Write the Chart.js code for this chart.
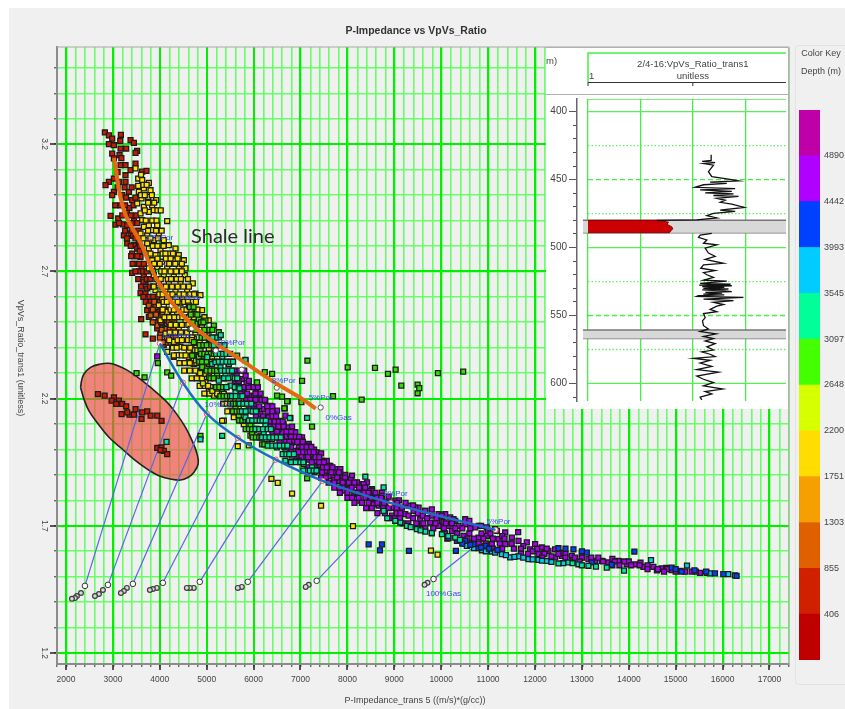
<!DOCTYPE html>
<html>
<head>
<meta charset="utf-8">
<title>P-Impedance vs VpVs_Ratio</title>
<script src="https://cdn.jsdelivr.net/npm/chart.js@4"></script>
<style>
  html, body { margin: 0; padding: 0; background: #fff; }
  canvas { filter: blur(0.4px); }
  #page { position: absolute; left: 9px; top: 8px; width: 836px; height: 701px; background: #f0f0f0; }
  #mainChart { position: absolute; left: 0; top: 0; }
  #logPanel { position: absolute; left: 546px; top: 47px; width: 243px; height: 362px; background: #fff; }
  #keyBox { position: absolute; left: 795px; top: 45px; width: 60px; height: 638px; border: 1px solid #e3e3e3; border-radius: 4px; background: #f0f0f0; }
  #keyChart { position: absolute; left: 795px; top: 100px; }
  .keyTitle { position: absolute; left: 795px; width: 52px; text-align: center; font: 9px "Liberation Sans", sans-serif; color: #444; }
</style>
</head>
<body>
<div id="page"></div>
<canvas id="mainChart" width="845" height="709"></canvas>
<div id="logPanel"><canvas id="logChart" width="243" height="362"></canvas></div>
<div id="keyBox"></div>
<div class="keyTitle" style="top:48px">Color Key</div>
<div class="keyTitle" style="top:66px">Depth (m)</div>
<canvas id="keyChart" width="50" height="570"></canvas>

<script>
// axis labels
const xLabels = [2000,3000,4000,5000,6000,7000,8000,9000,10000,11000,12000,13000,14000,15000,16000,17000];
const yLabels = [1.2,1.7,2.2,2.7,3.2];
const depthLabels = [406,855,1303,1751,2200,2648,3097,3545,3993,4442,4890];
const keyColors = ['#bf0000','#d02000','#e06000','#f5a000','#ffdd00','#d6ff00','#44ff00','#00ff99','#00ccff','#0040ff','#b000ff','#bf00a8'];

// crossplot points, one list per depth colour
const redPoints = [
  [2829,3.246],[2914,3.235],[2985,3.222],[3170,3.237],[3156,3.213],[3376,3.216],[3447,3.205],[2914,3.2],[3021,3.196],[3163,3.183],
  [3283,3.183],[2985,3.163],[3141,3.157],[3517,3.174],[3482,3.166],[3021,3.144],[3163,3.118],[3269,3.118],[3482,3.124],[3376,3.098],
  [3624,3.092],[3716,3.095],[3269,3.078],[3127,3.052],[3021,3.065],[2914,3.052],[2843,3.039],[3269,3.052],[3021,3.013],[2985,3.0],
  [3340,3.013],[3198,3.0],[3411,2.98],[3163,2.96],[2950,2.918],[3113,2.908],[3056,2.884],[3212,2.885],[3305,2.882],[3234,2.842],
  [3376,2.849],[3305,2.81],[3447,2.803],[3518,2.79],[3411,2.77],[3589,2.757],[3482,2.73],[3610,2.71],[3411,2.694],[3660,2.685],
  [3695,2.659],[3731,2.633],[3589,2.615],[3695,2.613],[3766,2.567],[3873,2.56],[3731,2.548],[3944,2.541],[3766,2.521],[3979,2.521],
  [3603,2.512],[3908,2.5],[4050,2.495],[3944,2.476],[4157,2.476],[3695,2.453],[4015,2.45],[3851,2.436],[4192,2.43],[4085,2.41],
  [4263,2.403],[4298,2.364],[3100,3.09],[3250,3.03],[3180,3.145],[3350,2.95],[3300,2.93],[3450,2.9],[3500,2.85],[3550,2.82],
  [3430,2.84],[3460,2.76],[3570,2.78],[3650,2.66],[3560,2.7],[3780,2.6],[3850,2.53],
  [3100,3.03],[3400,3.03],[3280,2.99],[3480,2.99],[3050,2.96],[3260,2.96],[3440,2.96],[3200,2.92],[3380,2.92],[3500,2.92],
  [3130,2.89],[3400,2.89],[3520,2.89],[3260,2.86],[3400,2.86],[3540,2.86],[3300,2.83],[3480,2.83],[3380,2.8],[3580,2.8],
  [3390,2.76],[3520,2.76],[3420,2.73],[3560,2.73],[3660,2.73],[3480,2.7],[3640,2.7],[3720,2.7],[3540,2.67],[3720,2.67],
  [3800,2.67],[3600,2.64],[3790,2.64],[3860,2.64],[3650,2.6],[3860,2.6],[3960,2.6],[3700,2.58],[3810,2.58],[3950,2.58],
  [4050,2.58],[3820,2.55],[3990,2.55]
];
const ellipseRedPoints = [
  [2681,2.218],[2823,2.212],[3022,2.205],[2972,2.192],[3128,2.192],[3071,2.179],[3199,2.179],[3284,2.17],[3185,2.139],[3355,2.137],
  [3306,2.146],[3483,2.159],[3447,2.137],[3625,2.146],[3731,2.15],[3611,2.12],[3803,2.133],[3945,2.133],[4037,2.113],[3945,2.006],
  [4037,2.008],[4087,1.995],[4158,1.982],[4015,1.998]
];
const orangePoints = [
  [3767,2.566],[3909,2.56],[4051,2.546],[3803,2.527],[3980,2.52],[4158,2.507],[3945,2.488],[4122,2.474],[4264,2.488],[4015,2.455],
  [4229,2.448],[4087,2.422],[4371,2.428],[4335,2.461],[3880,2.58],[4010,2.58],[3850,2.55],[4100,2.55],[3920,2.53],[4060,2.53],
  [4180,2.53],[3850,2.5],[4030,2.5],[4190,2.5],[4310,2.5],[4040,2.47],[4210,2.47],[4290,2.47],[4000,2.44],[4150,2.44],
  [4280,2.44],[4340,2.44],[4170,2.42],[4230,2.42]
];
const yellowPoints = [
  [3482,3.105],[3539,3.065],[3624,3.059],[3766,3.048],[3539,3.036],[3660,3.026],[3802,3.019],[3553,3.013],[3752,2.993],[3922,2.98],
  [3610,2.987],[3518,2.967],[3660,2.954],[3837,2.96],[3589,2.928],[3766,2.934],[3873,2.941],[4157,2.898],[3624,2.902],[3766,2.882],
  [3944,2.882],[3660,2.875],[3837,2.862],[3589,2.849],[3731,2.842],[3979,2.849],[3873,2.823],[4085,2.823],[3731,2.81],[4192,2.803],
  [4334,2.79],[3766,2.79],[4015,2.784],[3908,2.764],[4192,2.77],[4405,2.764],[3837,2.744],[4050,2.738],[4298,2.744],[4512,2.744],
  [3944,2.718],[4157,2.712],[4405,2.718],[4547,2.712],[3766,2.712],[3873,2.685],[4085,2.685],[4298,2.679],[4533,2.685],[3979,2.653],
  [4192,2.653],[4440,2.653],[4703,2.653],[3908,2.626],[4121,2.626],[4334,2.62],[4583,2.626],[4050,2.594],[4227,2.6],[4476,2.6],
  [4760,2.613],[4867,2.607],[3979,2.567],[4192,2.567],[4440,2.574],[4689,2.58],[4157,2.541],[4370,2.541],[4654,2.541],[4902,2.548],
  [4015,2.508],[4263,2.515],[4547,2.508],[4831,2.508],[5044,2.508],[4405,2.476],[4689,2.476],[4121,2.456],[4512,2.443],[4298,2.423],
  [4725,2.436],[4440,2.404],[4157,2.384],[4618,2.384],[4370,2.371],[4690,2.441],[4761,2.402],[4619,2.363],[4725,2.337],[4832,2.291],
  [4974,2.265],[5045,2.232],[5152,2.212],[5293,2.212],[5507,2.153],[5578,2.127],[5365,2.114],[5663,2.013],[5897,2.016],[6380,1.885],
  [6515,1.869],[5080,2.245],[5329,2.113],[6820,1.827],[7438,1.779],[8119,1.699],[9781,1.603],[9923,1.587],
  [3600,3.08],[3650,3.04],[3720,3.04],[3600,3.0],[3680,3.0],[3830,3.0],[3750,2.97],[3880,2.97],[3680,2.94],[3950,2.94],
  [4020,2.94],[3700,2.9],[3840,2.9],[3930,2.9],[3750,2.86],[3920,2.86],[4040,2.86],[3650,2.83],[3800,2.83],[3960,2.83],
  [3850,2.8],[3950,2.8],[4080,2.8],[3800,2.77],[4060,2.77],[4120,2.77],[4280,2.77],[3950,2.75],[4130,2.75],[4230,2.75],
  [4380,2.75],[3880,2.73],[4000,2.73],[4200,2.73],[4330,2.73],[4470,2.73],[3850,2.7],[4030,2.7],[4100,2.7],[4230,2.7],
  [4350,2.7],[4470,2.7],[3930,2.67],[4020,2.67],[4170,2.67],[4240,2.67],[4360,2.67],[4450,2.67],[4600,2.67],[3870,2.64],
  [4060,2.64],[4130,2.64],[4260,2.64],[4380,2.64],[4500,2.64],[4620,2.64],[3990,2.61],[4060,2.61],[4200,2.61],[4270,2.61],
  [4420,2.61],[4510,2.61],[4650,2.61],[4730,2.61],[4080,2.58],[4150,2.58],[4300,2.58],[4380,2.58],[4520,2.58],[4600,2.58],
  [4770,2.58],[4060,2.55],[4230,2.55],[4300,2.55],[4500,2.55],[4570,2.55],[4800,2.55],[4100,2.52],[4200,2.52],[4310,2.52],
  [4410,2.52],[4480,2.52],[4620,2.52],[4730,2.52],[4950,2.52],[4230,2.49],[4340,2.49],[4470,2.49],[4610,2.49],[4780,2.49],
  [4900,2.49],[4210,2.46],[4330,2.46],[4450,2.46],[4580,2.46],[4760,2.46],[4200,2.43],[4380,2.43],[4470,2.43],[4600,2.43],
  [4680,2.43],[4280,2.4],[4360,2.4],[4520,2.4],[4650,2.4],[4780,2.4],[4300,2.37],[4470,2.37],[4550,2.37],[4700,2.37],
  [4420,2.34],[4530,2.34],[4640,2.34],[4780,2.34],[4520,2.31],[4640,2.31],[4760,2.31],[4880,2.31],[4680,2.28],[4790,2.28],
  [4900,2.28],[4850,2.25],[4960,2.25],[5030,2.25],[4950,2.22],[5060,2.22],[5220,2.22],[5350,2.18],[5430,2.18],[5440,2.15]
];
const limePoints = [
  [4903,2.409],[5045,2.396],[4938,2.363],[5116,2.356],[4832,2.376],[5010,2.323],[5152,2.297],[4974,2.297],[5222,2.245],[5365,2.219],
  [5507,2.193],[5684,2.16],[5791,2.1],[5932,2.055],[6074,2.081],[6145,2.048],[6003,2.075],[4780,2.42],[4850,2.42],[4750,2.39],
  [4800,2.39],[4770,2.35],[4830,2.35],[4860,2.3],[4920,2.26],[5120,2.23]
];
const greenPoints = [
  [4832,2.363],[4974,2.356],[5045,2.337],[4903,2.324],[5152,2.31],[5045,2.284],[5222,2.291],[5329,2.238],[5471,2.212],[5613,2.166],
  [5684,2.134],[5791,2.114],[5932,2.1],[6039,2.081],[6145,2.055],[5968,2.062],[6288,2.022],[4619,2.566],[4725,2.533],[4832,2.513],
  [4974,2.507],[5152,2.487],[5045,2.467],[4761,2.494],[4655,2.474],[5258,2.461],[4903,2.441],[4725,2.422],[5045,2.415],[4868,2.389],
  [4690,2.369],[5649,2.369],[3504,2.3],[3675,2.284],[4158,2.303],[4243,2.29],[3958,2.34],[5826,2.35],[6238,2.304],[6394,2.297],
  [6074,2.264],[6500,2.212],[6607,2.208],[6728,2.19],[7019,2.186],[6664,2.162],[7147,2.349],[7033,2.27],[6714,2.189],[6657,2.162],
  [7246,2.09],[7140,1.887],[7693,2.21],[8006,2.323],[8588,2.321],[8865,2.297],[9028,2.314],[9149,2.251],[9497,2.255],[9532,2.241],
  [9497,2.221],[9930,2.3],[10469,2.306],[8304,2.196],[4867,2.054],
  [4890,2.44],[4960,2.44],[5050,2.44],[5120,2.44],[4850,2.41],[4930,2.41],[5000,2.41],[5100,2.41],[4880,2.376],[4950,2.376],
  [5020,2.376],[5090,2.376],[5150,2.376],[4840,2.345],[4900,2.345],[5000,2.345],[5100,2.345],[5170,2.345],[5000,2.31],[5080,2.31],
  [5160,2.31],[5220,2.31],[5080,2.28],[5150,2.28],[5260,2.28],[5330,2.28],[5200,2.245],[5270,2.245],[5350,2.245],[5420,2.245],
  [5290,2.21],[5360,2.21],[5430,2.21],[5500,2.21],[5500,2.18],[5560,2.18],[5620,2.18],[5680,2.18],[5560,2.15],[5640,2.15],
  [5700,2.15],[5760,2.15],[5690,2.114],[5760,2.114],[5830,2.114],[5880,2.114],[5830,2.08],[5900,2.08],[5970,2.08],[5980,2.048],
  [6050,2.048],[6120,2.048],[6170,2.048],[6180,2.02],[6230,2.02],[4640,2.56],[4720,2.56],[4660,2.53],[4800,2.53],[4700,2.5],
  [4880,2.5],[4930,2.5],[4760,2.47],[4950,2.47],[5060,2.47],[5120,2.47]
];
const tealPoints = [
  [5258,2.441],[5116,2.336],[5293,2.323],[5471,2.336],[5542,2.284],[5400,2.29],[5258,2.271],[5507,2.251],[5613,2.225],[5684,2.199],
  [5791,2.179],[5897,2.153],[5826,2.127],[6003,2.113],[6252,2.1],[6216,2.068],[6394,2.041],[6500,2.008],[6678,1.989],[6820,1.976],
  [6678,1.956],[6962,1.956],[7069,1.943],[7246,1.93],[7140,1.917],[7353,1.917],[5187,2.389],[5010,2.363],[5329,2.363],[5826,2.352],
  [5187,2.343],[5471,2.336],[6785,2.123],[7140,2.124],[6770,2.124],[4143,2.03],[4867,2.04],[5329,2.054],[8772,1.759],[8772,1.851],
  [8382,1.893],[9128,1.713],[9270,1.7],[9483,1.687],[9660,1.677],[10015,1.667],[10299,1.654],[13899,1.524],[12500,1.552],[12713,1.556],
  [12926,1.549],[13139,1.543],[13530,1.536],
  [5190,2.44],[5120,2.44],[5300,2.45],[5230,2.41],[5150,2.41],[5300,2.41],[5380,2.41],[5200,2.376],[5280,2.376],[5350,2.376],
  [5420,2.376],[5500,2.376],[5260,2.345],[5340,2.345],[5420,2.345],[5500,2.345],[5560,2.345],[5310,2.31],[5390,2.31],[5470,2.31],
  [5540,2.31],[5370,2.28],[5460,2.28],[5600,2.28],[5650,2.28],[5420,2.245],[5600,2.245],[5680,2.245],[5700,2.24],[5500,2.21],
  [5540,2.21],[5620,2.21],[5720,2.21],[5760,2.21],[5700,2.18],[5780,2.18],[5860,2.18],[5950,2.18],[5750,2.15],[5830,2.15],
  [5980,2.15],[6050,2.15],[5900,2.114],[5970,2.114],[6060,2.114],[6130,2.114],[6190,2.114],[6260,2.114],[6040,2.08],[6120,2.08],
  [6200,2.08],[6300,2.08],[6370,2.08],[6180,2.048],[6260,2.048],[6340,2.048],[6420,2.048],[6500,2.048],[6580,2.048],[6300,2.015],
  [6400,2.015],[6480,2.015],[6560,2.015],[6650,2.015],[6720,2.015],[6620,1.982],[6700,1.982],[6760,1.982],[6860,1.982],[6800,1.95],
  [6900,1.95],[7000,1.95],[7060,1.95],[7060,1.917],[7200,1.917],[7280,1.917],[7340,1.917],[9350,1.695],[9560,1.682],[9800,1.672],
  [10150,1.66],[10400,1.645],[8850,1.73],[9020,1.72],[12800,1.553],[13000,1.545],[13300,1.54]
];
const cyanPoints = [
  [10547,1.621],[10867,1.604],[11080,1.599],[11293,1.589],[11471,1.576],[11648,1.58],[11861,1.569],[12074,1.566],[12251,1.562],[14474,1.565],
  [15241,1.544],[15731,1.513],[16121,1.51],[16263,1.505],[10700,1.612],[10950,1.6],[11150,1.595],[11380,1.585],[11560,1.578],[11750,1.575],
  [11950,1.568],[12150,1.563],[12350,1.558],[12600,1.553]
];
const bluePoints = [
  [10690,1.628],[10796,1.612],[10938,1.621],[10512,1.641],[10157,1.652],[10335,1.641],[12500,1.612],[12820,1.608],[13104,1.595],[15127,1.52],
  [15837,1.513],[16015,1.51],[16298,1.503],[14914,1.536],[13210,1.556],[13636,1.547],[8453,1.627],[8737,1.627],[8694,1.604],[9312,1.602],
  [10313,1.602],[14119,1.599],[10450,1.63],[10620,1.625],[10850,1.615],[11020,1.61],[11200,1.605],[12650,1.61],[13000,1.6],[15000,1.53],
  [15400,1.525],[15650,1.52]
];
const purplePoints = [
  [5578,2.29],[5755,2.277],[5684,2.258],[5897,2.245],[5791,2.225],[5968,2.212],[6110,2.199],[6003,2.172],[6216,2.159],[6358,2.172],
  [6145,2.14],[6323,2.127],[6500,2.153],[6571,2.113],[6678,2.133],[6429,2.094],[6749,2.087],[6607,2.068],[6891,2.068],[7033,2.048],
  [6820,2.028],[6962,2.008],[7175,2.022],[7353,1.989],[7104,1.989],[7246,1.969],[7459,1.956],[7601,1.936],[7388,1.936],[7743,1.923],
  [7530,1.917],[7885,1.897],[7672,1.897],[8027,1.884],[7814,1.877],[8240,1.864],[8382,1.864],[7992,1.858],[8524,1.844],[7033,2.035],
  [7175,2.015],[6998,1.995],[7246,1.982],[7104,1.969],[7388,1.976],[7495,1.949],[7317,1.936],[7636,1.936],[7530,1.917],[7743,1.91],
  [7850,1.923],[7956,1.9],[8098,1.897],[7921,1.838],[8027,1.858],[8204,1.871],[8311,1.851],[8134,1.825],[8418,1.871],[8524,1.838],
  [8382,1.812],[8631,1.812],[8737,1.831],[8844,1.792],[8666,1.779],[9021,1.799],[8985,1.772],[9163,1.772],[9305,1.779],[9411,1.759],
  [9518,1.772],[9234,1.746],[9660,1.759],[9802,1.74],[9944,1.746],[10086,1.746],[10192,1.733],[9553,1.726],[9766,1.713],[10015,1.72],
  [10299,1.72],[10512,1.726],[10583,1.707],[10370,1.7],[10157,1.7],[10796,1.7],[10973,1.694],[11151,1.687],[11186,1.68],[11364,1.674],
  [11506,1.654],[11222,1.648],[10974,1.661],[11080,1.628],[11364,1.628],[11648,1.641],[11825,1.635],[12003,1.628],[11896,1.608],[12145,1.615],
  [12287,1.602],[12429,1.608],[12074,1.589],[12571,1.582],[12429,1.576],[12784,1.582],[12997,1.576],[13139,1.569],[13281,1.562],[13423,1.562],
  [13565,1.556],[13778,1.562],[13955,1.549],[14133,1.549],[14311,1.539],[14524,1.539],[14701,1.533],[14914,1.526],[15092,1.523],[15340,1.52],
  [15517,1.515],[15660,1.515],[9447,1.772],[9660,1.759],[10015,1.74],[10263,1.726],[10512,1.707],[10725,1.694],[9944,1.7],[10228,1.68],
  [10477,1.661],[10796,1.654],[10654,1.635],[9589,1.707],[9305,1.74],[8986,1.772],[8737,1.785],[8524,1.805],[8240,1.799],[8027,1.844],
  [8169,1.831],[7956,1.864],[8347,1.864],[8453,1.838],[8737,1.818],[8950,1.74],[11641,1.675],[5620,2.265],[5850,2.262],[5900,2.21],
  [6050,2.225],[6080,2.16],[6250,2.19],[6280,2.105],[6420,2.14],[6470,2.12],[6530,2.08],[6640,2.1],[6700,2.05],[6780,2.06],
  [6850,2.035],[6930,2.04],[6900,1.995],[7040,1.99],[7120,2.01],[7290,2.0],[7180,1.96],[7330,1.955],[7440,1.985],[7420,1.92],
  [7560,1.955],[7600,1.895],[7720,1.88],[7810,1.905],[7900,1.855],[8070,1.88],[8150,1.86],[8300,1.83],[8480,1.815],[8560,1.785],
  [8780,1.79],[8880,1.815],[9100,1.8],[9240,1.79],[9400,1.78],[9610,1.74],[9800,1.765],[10050,1.715],[10600,1.72],[10850,1.7],
  [11000,1.68],[11300,1.66],[11500,1.63],[11750,1.62],[11950,1.6],[12200,1.595],[12350,1.58],[12600,1.595],[12800,1.565],[13000,1.59],
  [13350,1.575],[13650,1.57],[14000,1.56],[14250,1.555],[14600,1.525],[14800,1.535],[3944,2.366],
  [5600,2.31],[5700,2.31],[5800,2.31],[5640,2.29],[5830,2.29],[5600,2.27],[5680,2.27],[5900,2.27],[5700,2.245],[5780,2.245],
  [6000,2.245],[6090,2.245],[5720,2.22],[5860,2.22],[6040,2.22],[6150,2.22],[5840,2.195],[5930,2.195],[6040,2.195],[6170,2.195],
  [6240,2.195],[5900,2.17],[6120,2.17],[6290,2.17],[6400,2.17],[5990,2.15],[6060,2.15],[6300,2.15],[6400,2.15],[6050,2.13],
  [6200,2.13],[6400,2.13],[6480,2.13],[6340,2.11],[6450,2.11],[6540,2.11],[6620,2.11],[6340,2.09],[6530,2.09],[6640,2.09],
  [6820,2.09],[6400,2.07],[6500,2.07],[6700,2.07],[6800,2.07],[6480,2.05],[6600,2.05],[6800,2.05],[6900,2.05],[6970,2.05],
  [6550,2.03],[6680,2.03],[6760,2.03],[6930,2.03],[7050,2.03],[6660,2.01],[6800,2.01],[7040,2.01],[7130,2.01],[7230,2.01],
  [6800,1.99],[6950,1.99],[7200,1.99],[7280,1.99],[6900,1.97],[7020,1.97],[7160,1.97],[7320,1.97],[7400,1.97],[7060,1.95],
  [7240,1.95],[7400,1.95],[7500,1.95],[7150,1.93],[7300,1.93],[7480,1.93],[7560,1.93],[7680,1.93],[7300,1.91],[7460,1.91],
  [7660,1.91],[7820,1.91],[7440,1.89],[7540,1.89],[7780,1.89],[7950,1.89],[7600,1.87],[7720,1.87],[7900,1.87],[8030,1.87],
  [8150,1.87],[7720,1.85],[7830,1.85],[8090,1.85],[8250,1.85],[8380,1.85],[7840,1.83],[8000,1.83],[8220,1.83],[8360,1.83],
  [8450,1.83],[8600,1.83],[8000,1.81],[8100,1.81],[8240,1.81],[8500,1.81],[8720,1.81],[8150,1.79],[8310,1.79],[8450,1.79],
  [8640,1.79],[8920,1.79],[9060,1.79],[8400,1.77],[8520,1.77],[8760,1.77],[8880,1.77],[9050,1.77],[8640,1.75],[8800,1.75],
  [9050,1.75],[9130,1.75],[9500,1.75],[8900,1.73],[9010,1.73],[9120,1.73],[9400,1.73],[9700,1.73],[9900,1.73],[9180,1.71],
  [9300,1.71],[9470,1.71],[9620,1.71],[9880,1.71],[10100,1.71],[10230,1.71],[9500,1.69],[9660,1.69],[9830,1.69],[10060,1.69],
  [10300,1.69],[10450,1.69],[10620,1.69],[9800,1.67],[10080,1.67],[10340,1.67],[10600,1.67],[10860,1.67],[11050,1.67],[10130,1.65],
  [10560,1.65],[10700,1.65],[10900,1.65],[11100,1.65],[11350,1.65],[10500,1.63],[10800,1.63],[10950,1.63],[11250,1.63],[11500,1.63],
  [11100,1.61],[11300,1.61],[11550,1.61],[11700,1.61],[12050,1.61],[12250,1.61],[11700,1.59],[11850,1.59],[12200,1.59],[12500,1.59],
  [12650,1.59],[12150,1.575],[12650,1.575],[12850,1.575],[13000,1.575],[13200,1.575],[12950,1.56],[13450,1.56],[13700,1.56],[13900,1.56],
  [13650,1.545],[13800,1.545],[14050,1.545],[14230,1.545],[14400,1.545],[14400,1.53],[14620,1.53],[14820,1.53],[14750,1.52],[15000,1.52],
  [15200,1.52],[15430,1.52]
];

// rock physics lines
const shaleLine = [[3021,3.145],[3234,2.94],[3596,2.81],[3916,2.676],[4342,2.558],[4832,2.468],[5322,2.401],[5684,2.358],[6387,2.271],[7026,2.2],[7324,2.161]];
const gasLine = [[4001,2.417],[4491,2.263],[5002,2.141],[5662,2.046],[6472,1.96],[7473,1.877],[8921,1.79],[11158,1.684]];
const shaleCircles = [[4257,2.566],[4683,2.476],[5194,2.389],[5748,2.314],[6493,2.243],[7430,2.165]];
const fluidEnds = [[2404,1.464],[2894,1.468],[3426,1.472],[4065,1.476],[4853,1.48],[5876,1.48],[7345,1.484],[9837,1.491]];
const fluidTails = [
  [2319,1.436],[2233,1.424],[2191,1.416],[2127,1.413],[2787,1.448],[2702,1.432],[2617,1.424],[3298,1.456],[3234,1.444],[3170,1.436],
  [3937,1.456],[3852,1.452],[3788,1.448],[4725,1.456],[4640,1.456],[4576,1.456],[5748,1.46],[5663,1.456],[7175,1.468],[7111,1.46],
  [9709,1.476],[9646,1.468]
];
const ellipseOutline = [
  [2311,2.244],[2333,2.271],[2383,2.297],[2525,2.323],[2738,2.336],[2915,2.339],[3092,2.33],[3284,2.314],[3483,2.29],[3803,2.244],
  [4122,2.192],[4349,2.142],[4548,2.087],[4690,2.034],[4796,1.982],[4818,1.943],[4726,1.91],[4598,1.89],[4442,1.88],[4229,1.884],
  [3980,1.897],[3732,1.923],[3483,1.956],[3199,2.002],[2915,2.048],[2688,2.1],[2489,2.152],[2383,2.198],[2311,2.244]
];
const curveNotes = ['25%Por','20%Por','15%Por','10%Por','8%Por','5%Por','0%Gas','10%Por','8%Por','5%Por','100%Gas'];
const notePositions = [[3980,2.834],[4576,2.598],[4342,2.448],[5513,2.42],[6642,2.271],[7430,2.204],[7814,2.125],[5258,2.176],[9028,1.826],[11222,1.716],[10050,1.432]];

// well log, depth against Vp/Vs
const logAbove = [
  [431.8,2.175],[435.9,2.175],[436.6,2.089],[437.5,2.213],[438.2,2.102],[439.4,2.197],[444.2,2.149],[447.8,2.181],[449.5,2.324],[450.9,2.436],
  [451.9,2.165],[452.8,2.324],[453.8,2.102],[455.7,2.022],[456.6,2.404],[457.6,2.07],[458.6,2.372],[459.8,2.118],[460.5,2.388],[461.7,2.197],
  [462.4,2.436],[463.8,2.229],[465.2,2.308],[466.7,2.261],[468.1,2.372],[470.5,2.49],[472.4,2.261],[473.4,2.404],[474.8,2.197],[476.5,2.134],
  [478.2,2.229],[479.6,2.038],[480,1.657]
];
const logBelow = [
  [489.6,2.181],[490.8,2.07],[492.5,2.054],[494.4,2.134],[496.8,2.102],[498,2.229],[500.4,2.118],[504,2.149],[506.4,2.213],[508.7,2.118],
  [511.6,2.292],[512.8,2.102],[515.2,2.076],[516.9,2.213],[518.5,2.102],[520,2.134],[521.9,2.197],[524,2.102],[524.7,2.324],[526.4,2.07],
  [527,2.36],[527.6,2.06],[528.1,2.372],[528.7,2.09],[529.3,2.3],[530,2.1],[530.5,2.34],[531.2,2.09],[531.8,2.3],[532.4,2.372],
  [533,2.12],[533.6,2.28],[534.2,2.1],[534.8,2.3],[535.4,2.06],[536,2.038],[536.7,2.483],[537.9,2.102],[539.1,2.388],
  [540.3,2.197],[541.9,2.293],[543.1,2.229],[545.5,2.165],[547.2,2.229],[548.6,2.102],[551.5,2.118],[553.9,2.092],[557.5,2.102],[559.9,2.149],
  [561.8,2.07],[563.5,2.223],[565.4,2.102],[567,2.197],[568.7,2.118],[570.6,2.213],[573,2.134],[575.4,2.197],[576.8,2.086],[578.5,2.165],
  [580.2,2.213],[581.6,2.006],[583,2.165],[585,2.07],[587.4,2.181],[589.8,2.038],[591.7,2.245],[594.5,2.038],[596.9,2.102],[599.3,2.197],
  [601.7,2.102],[604.1,2.286],[606,2.118],[607.7,2.181],[610.1,2.07],[612,2.086]
];
const redZone = [[1,480],[1.657,480],[1.768,481.3],[1.752,482.9],[1.8,484.8],[1.809,486.3],[1.79,487.7],[1.777,489.1],[1,489.1]];
const zoneDepths = [[480,489.1],[560.6,567]];
const solidDepths = [400,500,600];
const dashedDepths = [450,550];
const dottedDepths = [425,475,525,575];

const FONT = '"Liberation Sans", sans-serif';
Chart.defaults.font.family = FONT;
Chart.defaults.animation = false;

function toXY(list) {
  return list.map(p => ({ x: p[0], y: p[1] }));
}

function depthSet(points, color) {
  return {
    data: toXY(points),
    pointStyle: 'rect',
    pointRadius: 3.5,
    backgroundColor: color,
    borderColor: '#1c1c1c',
    borderWidth: 1.3,
    showLine: false
  };
}

function lineSet(points, color, width, tension) {
  return {
    data: toXY(points),
    showLine: true,
    borderColor: color,
    borderWidth: width,
    pointRadius: 0,
    tension: tension || 0,
    fill: false
  };
}

function circleSet(points, edge, radius) {
  return {
    data: toXY(points),
    showLine: false,
    pointRadius: radius,
    backgroundColor: '#fff',
    borderColor: edge,
    borderWidth: 1
  };
}

// Shared text for the crossplot
const crossplotText = {
  id: 'crossplotText',
  afterDatasetsDraw(chart) {
    const ctx = chart.ctx;
    const sx = chart.scales.x, sy = chart.scales.y;
    const area = chart.chartArea;
    ctx.save();
    ctx.strokeStyle = '#a8a8a8';
    ctx.lineWidth = 1;
    ctx.beginPath();
    ctx.moveTo(area.left, area.top);
    ctx.lineTo(area.right, area.top);
    ctx.lineTo(area.right, area.bottom);
    ctx.stroke();

    ctx.textAlign = 'center';
    ctx.textBaseline = 'middle';
    ctx.fillStyle = '#3c46f0';
    ctx.font = '8px ' + FONT;
    curveNotes.forEach((t, i) => {
      ctx.fillText(t, sx.getPixelForValue(notePositions[i][0]), sy.getPixelForValue(notePositions[i][1]));
    });

    ctx.fillStyle = '#2c2c2c';
    ctx.font = '20px Lato, sans-serif';
    ctx.fillText('Shale line', sx.getPixelForValue(5556), sy.getPixelForValue(2.838));

    ctx.fillStyle = '#333';
    ctx.font = 'bold 10.5px ' + FONT;
    ctx.fillText('P-Impedance vs VpVs_Ratio', 416, 31);

    ctx.fillStyle = '#444';
    ctx.font = '9px ' + FONT;
    ctx.fillText('P-Impedance_trans 5 ((m/s)*(g/cc))', 415, 701);

    ctx.translate(20, 358);
    ctx.rotate(Math.PI / 2);
    ctx.fillText('VpVs_Ratio_trans1 (unitless)', 0, 0);
    ctx.restore();
  }
};

new Chart(document.getElementById('mainChart'), {
  type: 'scatter',
  data: {
    datasets: [
      lineSet(shaleLine, '#e26a12', 4, 0.4),
      lineSet(gasLine, '#1f6cc4', 2.5, 0.4),
      circleSet(shaleCircles, '#555', 2.6),
      circleSet(gasLine, '#f05040', 2.6),
      depthSet(tealPoints, '#00e8a0'),
      depthSet(greenPoints, '#33dd00'),
      depthSet(limePoints, '#c4e800'),
      depthSet(yellowPoints, '#ffe400'),
      depthSet(bluePoints, '#0040ff'),
      depthSet(cyanPoints, '#00ccee'),
      depthSet(purplePoints, '#a800f0'),
      depthSet(orangePoints, '#e05800'),
      depthSet(redPoints, '#cc1a00'),
      depthSet(ellipseRedPoints, '#cc1a00'),
      circleSet(fluidEnds, '#333', 2.8),
      Object.assign(circleSet(fluidTails, '#3c3c3c', 2.4), { backgroundColor: '#d8d8d8', borderWidth: 1.2 }),
      ...fluidEnds.map((p, i) => lineSet([p, gasLine[i]], '#5a64e6', 1.2)),
      {
        data: toXY(ellipseOutline),
        showLine: true,
        tension: 0.4,
        pointRadius: 0,
        borderColor: '#222',
        borderWidth: 1.6,
        backgroundColor: 'rgba(240,80,70,0.68)',
        fill: 'shape'
      }
    ]
  },
  options: {
    responsive: false,
    layout: { padding: { top: 47, right: 56, left: 0, bottom: 0 } },
    plugins: { legend: { display: false }, tooltip: { enabled: false } },
    events: [],
    scales: {
      x: {
        type: 'linear', position: 'bottom', min: 1808, max: 17416,
        afterFit: s => { s.height = 0; },
        border: { color: '#8c8c8c', width: 2 },
        grid: { color: '#66ff66', lineWidth: 1.6, tickColor: '#333', tickLength: 3, tickWidth: 1 },
        ticks: { stepSize: 200, includeBounds: false, autoSkip: false, display: false }
      },
      y: {
        type: 'linear', position: 'left', min: 1.157, max: 3.582,
        afterFit: s => { s.width = 0; },
        border: { color: '#8c8c8c', width: 2 },
        grid: { color: '#66ff66', lineWidth: 1.6, tickColor: '#333', tickLength: 3, tickWidth: 1 },
        ticks: { stepSize: 0.1, includeBounds: false, autoSkip: false, display: false }
      },
      xMajor: {
        type: 'linear', position: 'bottom', min: 1808, max: 17416,
        afterBuildTicks: s => { s.ticks = xLabels.map(v => ({ value: v })); },
        afterFit: s => { s.height = 45; },
        border: { display: false },
        grid: { color: '#00f000', lineWidth: 2, tickColor: '#222', tickLength: 6, tickWidth: 1.5 },
        ticks: { autoSkip: false, maxRotation: 0, padding: 5, color: '#444', font: { size: 8.5 }, callback: v => String(v) }
      },
      yMajor: {
        type: 'linear', position: 'left', min: 1.157, max: 3.582,
        afterBuildTicks: s => { s.ticks = yLabels.map(v => ({ value: v })); },
        afterFit: s => { s.width = 57; },
        border: { display: false },
        grid: { color: '#00f000', lineWidth: 2, tickColor: '#222', tickLength: 7, tickWidth: 1.5 },
        ticks: { autoSkip: false, minRotation: -90, maxRotation: -90, crossAlign: 'center', padding: 0, color: '#444', font: { size: 8.5 }, callback: v => v.toFixed(1) }
      }
    }
  },
  plugins: [crossplotText]
});

// Header of the log track sits above the plot area
const logHeader = {
  id: 'logHeader',
  afterDraw(chart) {
    const ctx = chart.ctx;
    const sx = chart.scales.x;
    const left = sx.getPixelForValue(1);
    const mid = sx.getPixelForValue(2);
    const right = chart.chartArea.right;
    ctx.save();
    ctx.strokeStyle = '#b0b0b0';
    ctx.lineWidth = 1;
    ctx.beginPath();
    ctx.moveTo(0, 47.5);
    ctx.lineTo(243, 47.5);
    ctx.moveTo(0, 0.5);
    ctx.lineTo(242.5, 0.5);
    ctx.lineTo(242.5, 362);
    ctx.stroke();

    ctx.strokeStyle = '#44f044';
    ctx.lineWidth = 1.5;
    ctx.beginPath();
    ctx.moveTo(left, 36);
    ctx.lineTo(left, 6);
    ctx.lineTo(right, 6);
    ctx.stroke();

    ctx.strokeStyle = '#333';
    ctx.lineWidth = 1;
    ctx.beginPath();
    ctx.moveTo(left, 35.5);
    ctx.lineTo(right, 35.5);
    ctx.moveTo(left, 35.5);
    ctx.lineTo(left, 39);
    ctx.moveTo(mid, 35.5);
    ctx.lineTo(mid, 39);
    ctx.stroke();

    ctx.fillStyle = '#444';
    ctx.font = '9.5px ' + FONT;
    ctx.textAlign = 'center';
    ctx.textBaseline = 'middle';
    ctx.fillText('2/4-16:VpVs_Ratio_trans1', mid, 17);
    ctx.fillText('unitless', mid, 29);
    ctx.textAlign = 'left';
    ctx.fillText('1', left + 1, 29);
    ctx.fillText('m)', 0, 14);
    ctx.restore();
  }
};

function depthLine(depth, dash, color) {
  const set = lineSet([[1, depth], [2.889, depth]], color, 1.3);
  set.borderDash = dash;
  return set;
}

new Chart(document.getElementById('logChart'), {
  type: 'scatter',
  data: {
    datasets: [
      lineSet(logAbove.map(p => [p[1], p[0]]), '#111', 1.3),
      lineSet(logBelow.map(p => [p[1], p[0]]), '#111', 1.3),
      {
        data: toXY(redZone),
        showLine: true,
        pointRadius: 0,
        borderColor: '#8a0000',
        borderWidth: 1,
        backgroundColor: '#cc0000',
        fill: 'shape'
      },
      ...zoneDepths.flatMap(z => [
        Object.assign(lineSet([[0.952, z[0]], [2.889, z[0]]], '#777', 1.5), { fill: '+1', backgroundColor: '#d8d8d8' }),
        lineSet([[0.952, z[1]], [2.889, z[1]]], '#777', 1.5)
      ]),
      ...solidDepths.map(d => depthLine(d, [], '#55ee55')),
      ...dashedDepths.map(d => depthLine(d, [5, 3], '#44ee44')),
      ...dottedDepths.map(d => depthLine(d, [1.5, 2], '#66ee66')),
      depthLine(390.7, [], '#44f044')
    ]
  },
  options: {
    responsive: false,
    layout: { padding: { top: 52, right: 3, left: 0, bottom: 0 } },
    plugins: { legend: { display: false }, tooltip: { enabled: false } },
    events: [],
    scales: {
      x: {
        type: 'linear', position: 'bottom', min: 0.895, max: 2.889,
        afterBuildTicks: s => { s.ticks = [1, 1.5, 2, 2.5].map(v => ({ value: v })); },
        afterFit: s => { s.height = 0; },
        border: { display: false },
        grid: { color: '#44f044', lineWidth: 1.3, drawTicks: false },
        ticks: { display: false }
      },
      y: {
        type: 'linear', position: 'left', reverse: true, min: 390.7, max: 612.9,
        afterFit: s => { s.width = 0; },
        border: { color: '#666', width: 1.5 },
        grid: { drawOnChartArea: false, tickColor: '#555', tickLength: 4 },
        ticks: { stepSize: 10, includeBounds: false, autoSkip: false, display: false }
      },
      yMajor: {
        type: 'linear', position: 'left', reverse: true, min: 390.7, max: 612.9,
        afterFit: s => { s.width = 31; },
        border: { display: false },
        grid: { drawOnChartArea: false, tickColor: '#555', tickLength: 8 },
        ticks: { stepSize: 50, includeBounds: false, autoSkip: false, padding: 2, color: '#444', font: { size: 10 } }
      }
    }
  },
  plugins: [logHeader]
});

// Colour key, one stacked block per depth interval
const keyEdges = [-42].concat(depthLabels, [5338]);
new Chart(document.getElementById('keyChart'), {
  type: 'bar',
  data: {
    labels: ['Depth'],
    datasets: keyColors.map((c, i) => ({
      data: [[keyEdges[i], keyEdges[i + 1]]],
      backgroundColor: c,
      borderWidth: 0,
      grouped: false,
      barPercentage: 1,
      categoryPercentage: 1
    }))
  },
  options: {
    responsive: false,
    layout: { padding: { top: 10, left: 4, right: 0, bottom: 10 } },
    plugins: { legend: { display: false }, tooltip: { enabled: false } },
    events: [],
    scales: {
      x: { display: false },
      y: {
        position: 'right', min: -42, max: 5338,
        afterBuildTicks: s => { s.ticks = depthLabels.map(v => ({ value: v })); },
        afterFit: s => { s.width = 25; },
        border: { display: false },
        grid: { display: false, drawTicks: false },
        ticks: { autoSkip: false, padding: 4, color: '#444', font: { size: 9 }, callback: v => String(v) }
      }
    }
  }
});
</script>
</body>
</html>
